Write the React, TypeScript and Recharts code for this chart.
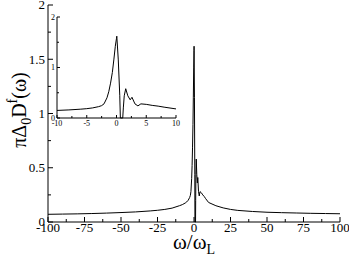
import React from 'react';
import { LineChart, Line, XAxis, YAxis, Label } from 'recharts';

const omega = [-100, -90, -80, -70, -60, -50, -40, -30, -25, -20, -15, -10, -8, -6, -5, -4, -3, -2.5, -2.1, -1.6, -1.3, -1.0, -0.7, -0.45, -0.2, 0, 0.05, 0.3, 0.55, 0.65, 1.05, 1.15, 1.3, 1.55, 1.9, 2.3, 2.6, 3.1, 3.6, 4.1, 5, 6, 7, 8, 10, 15, 20, 25, 30, 40, 50, 60, 70, 80, 90, 100];
const spectral = [0.071, 0.073, 0.075, 0.078, 0.082, 0.087, 0.093, 0.102, 0.108, 0.116, 0.128, 0.15, 0.16, 0.175, 0.185, 0.2, 0.225, 0.245, 0.28, 0.4, 0.52, 0.69, 0.9, 1.15, 1.42, 1.58, 1.62, 1.15, 0.44, 0, 0, 0.2, 0.44, 0.58, 0.44, 0.36, 0.41, 0.28, 0.24, 0.28, 0.27, 0.25, 0.235, 0.215, 0.18, 0.15, 0.13, 0.116, 0.107, 0.097, 0.09, 0.086, 0.083, 0.08, 0.078, 0.076];

const mainXMajor = [-100, -75, -50, -25, 0, 25, 50, 75, 100];
const mainXMinor = [-87.5, -62.5, -37.5, -12.5, 12.5, 37.5, 62.5, 87.5];
const mainYMajor = [0, 0.5, 1, 1.5, 2];
const mainYMinor = [0.25, 0.75, 1.25, 1.75];
const insetXMajor = [-10, -5, 0, 5, 10];
const insetXMinor = [-7.5, -2.5, 2.5, 7.5];
const insetYMajor = [0, 1, 2];
const insetYMinor = [0.5, 1.5];

const mainData = omega.map((w, i) => ({ w, d: spectral[i] }));
const insetData = mainData.filter((p) => p.w >= -10 && p.w <= 10);

const FONT = "Liberation Serif";
const fontStyle = { fontFamily: FONT };

type Side = 'bottom' | 'top' | 'left' | 'right';

function makeTick(side: Side, majors: number[], majorLen: number, minorLen: number, fontSize: number, showLabel: boolean, labelGap: number) {
  return (props: any) => {
    const { x, y, payload } = props;
    const v = payload.value as number;
    const isMajor = majors.includes(v);
    const len = isMajor ? majorLen : minorLen;
    let line;
    let text = null;
    if (side === 'bottom') {
      line = <line x1={x} x2={x} y1={y} y2={y - len} stroke="#000" strokeWidth={1} />;
      if (showLabel && isMajor)
        text = (
          <text x={x} y={y + labelGap} textAnchor="middle" fontSize={fontSize} fontFamily={FONT} fill="#000">
            {String(v)}
          </text>
        );
    } else if (side === 'top') {
      line = <line x1={x} x2={x} y1={y} y2={y + len} stroke="#000" strokeWidth={1} />;
    } else if (side === 'left') {
      line = <line x1={x} x2={x + len} y1={y} y2={y} stroke="#000" strokeWidth={1} />;
      if (showLabel && isMajor)
        text = (
          <text x={x - labelGap} y={y + fontSize * 0.33} textAnchor="end" fontSize={fontSize} fontFamily={FONT} fill="#000">
            {String(v)}
          </text>
        );
    } else {
      line = <line x1={x} x2={x - len} y1={y} y2={y} stroke="#000" strokeWidth={1} />;
    }
    return (
      <g>
        {line}
        {text}
      </g>
    );
  };
}

const YLabelContent = () => (
  <text transform="translate(26,110) rotate(-90)" textAnchor="middle" fontFamily={FONT} fontSize={20} fill="#000">
    <tspan>πΔ</tspan>
    <tspan fontSize={14} dy={5}>0</tspan>
    <tspan dy={-5}>D</tspan>
    <tspan fontSize={14} dy={-9}>f</tspan>
    <tspan dy={9}>(ω)</tspan>
  </text>
);

const XLabelContent = () => (
  <text x={194} y={249} textAnchor="middle" fontFamily={FONT} fontSize={21} fill="#000">
    <tspan>ω/ω</tspan>
    <tspan fontSize={14} dy={5}>L</tspan>
  </text>
);

export default function App() {
  const allMainX = [...mainXMajor, ...mainXMinor].sort((a, b) => a - b);
  const allMainY = [...mainYMajor, ...mainYMinor].sort((a, b) => a - b);
  const allInsetX = [...insetXMajor, ...insetXMinor].sort((a, b) => a - b);
  const allInsetY = [...insetYMajor, ...insetYMinor].sort((a, b) => a - b);
  return (
    <div style={{ position: 'absolute', left: 0, top: 0, width: 349, height: 257, background: '#fff' }}>
      <div style={{ position: 'absolute', left: 0, top: 0 }}>
        <LineChart width={349} height={257} data={mainData} margin={{ top: 5, right: 9, bottom: 0, left: 0 }}>
          <XAxis xAxisId="b" dataKey="w" type="number" domain={[-100, 100]} ticks={allMainX} interval={0} height={35} tickSize={0} tickMargin={0} tickLine={false} axisLine={{ stroke: '#000' }} tick={makeTick('bottom', mainXMajor, 5, 3, 13, true, 10)}>
            <Label content={XLabelContent} />
          </XAxis>
          <XAxis xAxisId="t" dataKey="w" type="number" orientation="top" domain={[-100, 100]} ticks={allMainX} interval={0} height={0} tickSize={0} tickMargin={0} tickLine={false} axisLine={{ stroke: '#000' }} tick={makeTick('top', mainXMajor, 5, 3, 12, false, 0)} />
          <YAxis yAxisId="l" type="number" domain={[0, 2]} ticks={allMainY} interval={0} width={48} tickSize={0} tickMargin={0} tickLine={false} axisLine={{ stroke: '#000' }} tick={makeTick('left', mainYMajor, 5, 3, 13, true, 3)}>
            <Label content={YLabelContent} />
          </YAxis>
          <YAxis yAxisId="r" type="number" orientation="right" domain={[0, 2]} ticks={allMainY} interval={0} width={0} tickSize={0} tickMargin={0} tickLine={false} axisLine={{ stroke: '#000' }} tick={makeTick('right', mainYMajor, 5, 3, 12, false, 0)} />
          <Line xAxisId="b" yAxisId="l" type="linear" dataKey="d" stroke="#000" strokeWidth={1} dot={false} isAnimationActive={false} />
        </LineChart>
      </div>
      <div style={{ position: 'absolute', left: 40, top: 10 }}>
        <LineChart width={145} height={125} data={insetData} margin={{ top: 7, right: 9, bottom: 0, left: 0 }}>
          <XAxis xAxisId="b" dataKey="w" type="number" domain={[-10, 10]} ticks={allInsetX} interval={0} height={17} tickSize={0} tickMargin={0} tickLine={false} axisLine={{ stroke: '#000' }} tick={makeTick('bottom', insetXMajor, 3, 2, 8, true, 8)} />
          <XAxis xAxisId="t" dataKey="w" type="number" orientation="top" domain={[-10, 10]} ticks={allInsetX} interval={0} height={0} tickSize={0} tickMargin={0} tickLine={false} axisLine={{ stroke: '#000' }} tick={makeTick('top', insetXMajor, 3, 2, 8, false, 0)} />
          <YAxis yAxisId="l" type="number" domain={[0, 2]} ticks={allInsetY} interval={0} width={17} tickSize={0} tickMargin={0} tickLine={false} axisLine={{ stroke: '#000' }} tick={makeTick('left', insetYMajor, 3, 2, 8, true, 2)} />
          <YAxis yAxisId="r" type="number" orientation="right" domain={[0, 2]} ticks={allInsetY} interval={0} width={0} tickSize={0} tickMargin={0} tickLine={false} axisLine={{ stroke: '#000' }} tick={makeTick('right', insetYMajor, 3, 2, 8, false, 0)} />
          <Line xAxisId="b" yAxisId="l" type="linear" dataKey="d" stroke="#000" strokeWidth={1} dot={false} isAnimationActive={false} />
        </LineChart>
      </div>
    </div>
  );
}
